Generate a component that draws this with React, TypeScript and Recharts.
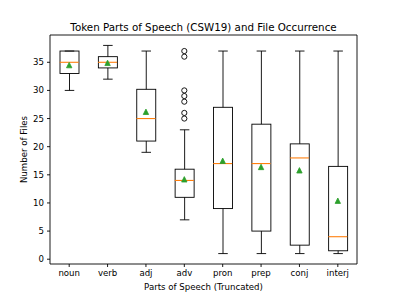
import React from 'react';
import { ComposedChart, Bar, Line, XAxis, YAxis } from 'recharts';

const categories = ['noun', 'verb', 'adj', 'adv', 'pron', 'prep', 'conj', 'interj'];
const whiskerLow = [30, 32, 19, 7, 1, 1, 1, 1];
const q1 = [33, 34, 21, 11, 9, 5, 2.5, 1.5];
const medians = [35, 35, 25, 14, 17, 17, 18, 4];
const q3 = [37, 36, 30.2, 16, 27, 24, 20.5, 16.5];
const whiskerHigh = [37, 38, 37, 23, 37, 37, 37, 37];
const means = [34.5, 34.9, 26.2, 14.2, 17.5, 16.4, 15.8, 10.4];
const advOutliers = [25, 26, 28, 29, 30, 36, 37];
const yTicks = [0, 5, 10, 15, 20, 25, 30, 35];

const data = categories.map((name, i) => {
  const row: any = {
    name,
    box: [q1[i], q3[i]],
    lo: [whiskerLow[i], q1[i]],
    hi: [q3[i], whiskerHigh[i]],
    median: medians[i],
    mean: means[i],
  };
  if (name === 'adv') advOutliers.forEach((v, j) => (row['out' + j] = v));
  return row;
});

const BOX_W = 19;
const LW = 0.9;
const FONT = 'DejaVu Sans, sans-serif';
const Y_DOMAIN: [number, number] = [-0.85, 39.85];

const span = (p: any) => {
  const a = p.y;
  const b = p.y + p.height;
  return { top: Math.min(a, b), bottom: Math.max(a, b), cx: p.x + p.width / 2, w: p.width };
};

const BoxShape = (p: any) => {
  const s = span(p);
  return (
    <rect x={s.cx - s.w / 2} y={s.top} width={s.w} height={s.bottom - s.top} fill="none" stroke="#000" strokeWidth={LW} />
  );
};

const LowWhisker = (p: any) => {
  const s = span(p);
  const cw = s.w / 2;
  return (
    <g stroke="#000" strokeWidth={LW}>
      <line x1={s.cx} x2={s.cx} y1={s.top} y2={s.bottom} />
      <line x1={s.cx - cw / 2} x2={s.cx + cw / 2} y1={s.bottom} y2={s.bottom} />
    </g>
  );
};

const HighWhisker = (p: any) => {
  const s = span(p);
  const cw = s.w / 2;
  return (
    <g stroke="#000" strokeWidth={LW}>
      <line x1={s.cx} x2={s.cx} y1={s.top} y2={s.bottom} />
      <line x1={s.cx - cw / 2} x2={s.cx + cw / 2} y1={s.top} y2={s.top} />
    </g>
  );
};

const MedianDot = (p: any) => {
  if (p.cy == null || p.value == null) return <g key={p.key} />;
  return (
    <line key={p.key} x1={p.cx - BOX_W / 2} x2={p.cx + BOX_W / 2} y1={p.cy} y2={p.cy} stroke="#ff7f0e" strokeWidth={1.1} />
  );
};

const MeanDot = (p: any) => {
  if (p.cy == null || p.value == null) return <g key={p.key} />;
  const r = 2.7;
  return (
    <polygon
      key={p.key}
      points={`${p.cx},${p.cy - r} ${p.cx - r},${p.cy + r} ${p.cx + r},${p.cy + r}`}
      fill="#2ca02c"
      stroke="#2ca02c"
      strokeWidth={0.8}
    />
  );
};

const OutlierDot = (p: any) => {
  if (p.cy == null || p.value == null || isNaN(p.cy)) return <g key={p.key} />;
  return <circle key={p.key} cx={p.cx} cy={p.cy} r={2.6} fill="none" stroke="#000" strokeWidth={LW} />;
};

export default function App() {
  return (
    <div style={{ position: 'absolute', left: 0, top: 0, width: 396, height: 297, background: '#fff', fontFamily: FONT }}>
      <div
        style={{
          position: 'absolute',
          left: 50,
          top: 20.5,
          width: 307,
          textAlign: 'center',
          fontSize: 10.3,
          lineHeight: '12px',
          color: '#000',
          fontFamily: FONT,
        }}
      >
        Token Parts of Speech (CSW19) and File Occurrence
      </div>
      <ComposedChart width={396} height={297} data={data} margin={{ top: 34, right: 38, bottom: 3, left: 0 }}>
        <XAxis
          xAxisId="main"
          dataKey="name"
          type="category"
          height={30}
          tickSize={3}
          tickMargin={3}
          tick={{ fill: '#000', fontSize: 8.6, fontFamily: FONT }}
          tickLine={{ stroke: '#000', strokeWidth: LW }}
          axisLine={{ stroke: '#000', strokeWidth: LW }}
          label={{ value: 'Parts of Speech (Truncated)', position: 'insideBottom', offset: 4, fill: '#000', fontSize: 8.6, fontFamily: FONT }}
        />
        <XAxis
          xAxisId="wl"
          dataKey="name"
          type="category"
          orientation="top"
          height={1}
          tick={false}
          tickLine={false}
          axisLine={{ stroke: '#000', strokeWidth: LW }}
        />
        <XAxis xAxisId="wh" dataKey="name" type="category" hide />
        <YAxis
          yAxisId="y"
          type="number"
          domain={Y_DOMAIN}
          ticks={yTicks}
          width={50}
          tickSize={3}
          tickMargin={3}
          interval={0}
          tick={{ fill: '#000', fontSize: 8.6, fontFamily: FONT }}
          tickLine={{ stroke: '#000', strokeWidth: LW }}
          axisLine={{ stroke: '#000', strokeWidth: LW }}
          label={{ value: 'Number of Files', angle: -90, position: 'center', dx: -1, fill: '#000', fontSize: 8.6, fontFamily: FONT }}
        />
        <YAxis
          yAxisId="r"
          orientation="right"
          type="number"
          domain={Y_DOMAIN}
          width={1}
          tick={false}
          tickLine={false}
          axisLine={{ stroke: '#000', strokeWidth: LW }}
        />
        <Bar xAxisId="wl" yAxisId="y" dataKey="lo" barSize={BOX_W} shape={LowWhisker} isAnimationActive={false} />
        <Bar xAxisId="wh" yAxisId="r" dataKey="hi" barSize={BOX_W} shape={HighWhisker} isAnimationActive={false} />
        <Bar xAxisId="main" yAxisId="y" dataKey="box" barSize={BOX_W} shape={BoxShape} isAnimationActive={false} />
        <Line xAxisId="main" yAxisId="y" dataKey="median" stroke="none" dot={MedianDot} activeDot={false} isAnimationActive={false} />
        <Line xAxisId="main" yAxisId="y" dataKey="mean" stroke="none" dot={MeanDot} activeDot={false} isAnimationActive={false} />
        {advOutliers.map((_, j) => (
          <Line
            key={'out' + j}
            xAxisId="main"
            yAxisId="y"
            dataKey={'out' + j}
            stroke="none"
            dot={OutlierDot}
            activeDot={false}
            isAnimationActive={false}
          />
        ))}
      </ComposedChart>
    </div>
  );
}
